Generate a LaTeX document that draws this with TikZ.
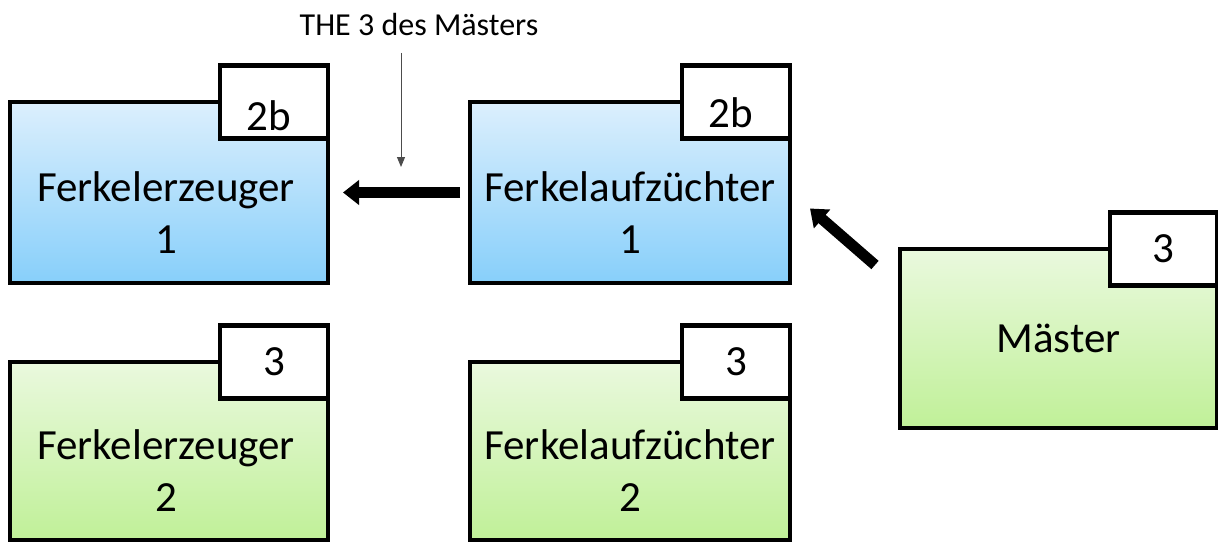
\documentclass[tikz,border=0pt]{standalone}
\usepackage{fontspec}
\setmainfont{Carlito}
\usetikzlibrary{positioning, arrows.meta}
\definecolor{blue top}{RGB}{220,239,253}
\definecolor{blue bottom}{RGB}{135,207,250}
\definecolor{green top}{RGB}{234,249,222}
\definecolor{green bottom}{RGB}{192,240,152}

\begin{document}
\begin{tikzpicture}[x=1pt, y=-1pt,
		box/.style={draw, line width=4.5pt, outer sep=0pt, inner sep=0pt, minimum width=318pt, minimum height=181pt},
		blue box/.style={box, top color=blue top, bottom color=blue bottom},
		green box/.style={box, top color=green top, bottom color=green bottom},
		tag/.style={draw, line width=4.5pt, fill=white, outer sep=0pt, inner sep=0pt, minimum width=108pt, minimum height=73pt, anchor=east},
		big text/.style={font=\fontsize{43}{52}\selectfont, align=center, inner sep=0pt},
		fat arrow/.style={line width=11pt, -{Triangle[length=16pt, width=24pt]}},
		thin arrow/.style={line width=1pt, draw=black!70, -{Triangle[length=10pt, width=8pt]}}]
			\useasboundingbox (0,0) rectangle (1218,543);
			% boxes
			\node[blue box] (fe 1) at (169,192.5) {};
			\node[blue box, minimum width=320pt] (fa 1) at (630,192.5) {};
			\node[green box, minimum height=178pt] (fe 2) at (169,451) {};
			\node[green box, minimum width=320pt, minimum height=178pt] (fa 2) at (630,451) {};
			\node[green box, minimum width=317pt, minimum height=179pt] (ms) at (1058.5,338.5) {};
			\node[big text] (fe 1 text) at ([shift={(-3,20)}]fe 1.center) {Ferkelerzeuger\\1};
			\node[big text] (fa 1 text) at ([shift={(0,20)}]fa 1.center) {Ferkelaufzüchter\\1};
			\node[big text] (fe 2 text) at ([shift={(-3,20)}]fe 2.center) {Ferkelerzeuger\\2};
			\node[big text] (fa 2 text) at ([shift={(0,20)}]fa 2.center) {Ferkelaufzüchter\\2};
			\node[big text] (ms text) at (ms.center) {Mäster};
			% tags
			\node[tag] (fe 1 tag) at (fe 1.north east) {};
			\node[big text] (fe 1 num) at ([shift={(-5,14)}]fe 1 tag.center) {2b};
			\node[tag] (fa 1 tag) at (fa 1.north east) {};
			\node[big text] (fa 1 num) at ([shift={(-5,11)}]fa 1 tag.center) {2b};
			\node[tag] (fe 2 tag) at (fe 2.north east) {};
			\node[big text] (fe 2 num) at ([shift={(0,0)}]fe 2 tag.center) {3};
			\node[tag] (fa 2 tag) at (fa 2.north east) {};
			\node[big text] (fa 2 num) at ([shift={(0,0)}]fa 2 tag.center) {3};
			\node[tag, minimum width=107pt] (ms tag) at (ms.north east) {};
			\node[big text] (ms num) at ([shift={(0,0)}]ms tag.center) {3};
			% arrows
			\draw[fat arrow] ([shift={(-10,0)}]fa 1.west) -- ([shift={(15,0)}]fe 1.east);
			\draw[fat arrow] ([shift={(-25,16)}]ms.north west) -- ([shift={(20,16)}]fa 1.east);
			\node[font=\fontsize{32}{36}\selectfont, inner sep=0pt] (note) at (419,25) {THE 3 des Mästers};
			\coordinate (note start) at (401,53);
			\coordinate (note tip) at (401,167);
			\draw[thin arrow] (note start) -- (note tip);
		\end{tikzpicture}
\end{document}
